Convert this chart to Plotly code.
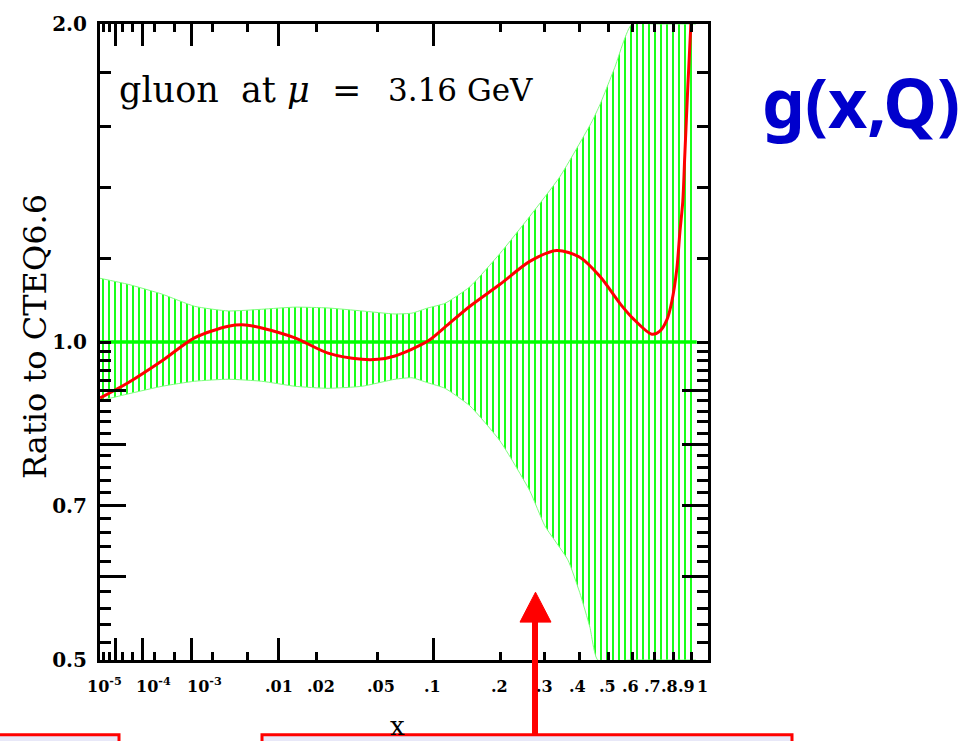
import numpy as np
import plotly.graph_objects as go

# ---------------- data ----------------
# upper edge of the uncertainty band
x_hi = [1e-6, 3.4e-5, 2.9e-4, 1.1e-3, 3.1e-3, 7.0e-3, 0.0137, 0.0243, 0.0406, 0.0632,
        0.078, 0.094, 0.114, 0.1485, 0.20, 0.263, 0.341, 0.441, 0.4695, 0.507, 0.526,
        0.596, 0.70, 0.80, 0.925]
band_hi = [1.149, 1.134, 1.110, 1.081, 1.070, 1.074, 1.079, 1.077, 1.070, 1.063,
           1.065, 1.077, 1.088, 1.128, 1.213, 1.315, 1.434, 1.616, 1.677, 1.771, 1.82,
           2.0, 2.0, 2.0, 2.0]
# lower edge of the uncertainty band
x_lo = [1e-6, 3.4e-5, 2.9e-4, 1.1e-3, 3.1e-3, 7.0e-3, 0.0137, 0.0243, 0.0406, 0.0632,
        0.078, 0.094, 0.114, 0.1485, 0.20, 0.263, 0.300, 0.364, 0.401, 0.4345, 0.462,
        0.60, 0.80, 0.925]
band_lo = [0.880, 0.893, 0.908, 0.918, 0.922, 0.918, 0.908, 0.904, 0.908, 0.922,
           0.925, 0.915, 0.904, 0.870, 0.806, 0.723, 0.670, 0.622, 0.579, 0.537, 0.5,
           0.5, 0.5, 0.5]
# central (red) ratio curve
x_c = [1e-6, 3.4e-5, 2.9e-4, 1.1e-3, 3.1e-3, 4.8e-3, 7.0e-3, 0.0137, 0.0243, 0.0406,
       0.0506, 0.0632, 0.0941, 0.114, 0.1485, 0.200, 0.263, 0.332, 0.401, 0.4695,
       0.55, 0.6005, 0.6875, 0.727, 0.763, 0.789, 0.816, 0.8325, 0.849, 0.86, 0.878,
       0.895, 0.91]
ratio_c = [0.885, 0.915, 0.960, 1.009, 1.035, 1.038, 1.031, 1.009, 0.976, 0.963,
           0.963, 0.970, 1.002, 1.033, 1.081, 1.134, 1.192, 1.221, 1.203, 1.154,
           1.085, 1.053, 1.017, 1.024, 1.05, 1.093, 1.174, 1.27, 1.359, 1.50, 1.752,
           1.995, 2.3]
# reference line at ratio 1
x_ref = [1e-6, 0.93]
ratio_ref = [1.0, 1.0]

# ticks
x_tick_vals = [1e-5, 1e-4, 1e-3, 0.01, 0.02, 0.05, 0.1, 0.2, 0.3, 0.4, 0.5, 0.6, 0.7, 0.8, 0.9, 1.0]
x_tick_text = ["10<sup>-5</sup>", "10<sup>-4</sup>", "10<sup>-3</sup>", ".01", ".02", ".05", ".1",
               ".2", ".3", ".4", ".5", ".6", ".7", ".8", ".9", "1"]
x_minor_vals = [2e-6, 5e-6, 2e-5, 5e-5, 2e-4, 5e-4, 2e-3, 5e-3]
x_long_vals = [1e-5, 1e-4, 1e-3, 0.01, 0.1]
y_tick_vals = [0.5, 0.7, 1.0, 2.0]
y_tick_text = ["0.5", "0.7", "1.0", "2.0"]
y_minor_vals = [round(0.5 + 0.02 * i, 2) for i in range(1, 25)] + [1.2, 1.4, 1.6, 1.8]
y_long_vals = [0.6, 0.7, 0.8, 0.9]

# style: horizontal nudges (px) of the x tick labels, as set in the original
x_label_shift = [-11, 11, 13, 0, 5, 4, -1, -1, 0, -2, -1, -2, -2, -4, -5, -6]

X_MIN, X_MAX = 1e-6, 1.0
Y_MIN, Y_MAX = 0.5, 2.0
POW = 0.25  # the x axis is linear in x**0.25


def tx(v):
    return (np.asarray(v, dtype=float)) ** POW


# ---------------- figure geometry ----------------
W, H = 971, 741
L, R, T, B = 100, 708, 22, 660


def px(xp):
    return (xp - L) / (R - L)


def py(yp):
    return (B - yp) / (B - T)


fig = go.Figure()

GREEN = "#00ff00"
fig.add_trace(go.Scatter(x=tx(x_hi), y=band_hi, mode="lines",
                         line=dict(color="#7dff7d", width=1, shape="spline", smoothing=0.5),
                         showlegend=False, hoverinfo="skip"))
fig.add_trace(go.Scatter(x=tx(x_lo), y=band_lo, mode="lines", fill="tonexty",
                         fillcolor="white",
                         fillpattern=dict(shape="|", size=6, solidity=0.3, fgopacity=1,
                                          fgcolor=GREEN, bgcolor="white"),
                         line=dict(color="#7dff7d", width=1, shape="spline", smoothing=0.5),
                         showlegend=False, hoverinfo="skip"))
fig.add_trace(go.Scatter(x=tx(x_ref), y=ratio_ref, mode="lines",
                         line=dict(color=GREEN, width=3.5), showlegend=False))
fig.add_trace(go.Scatter(x=tx(x_c), y=ratio_c, mode="lines",
                         line=dict(color="#ff0000", width=3, shape="spline", smoothing=0.8),
                         showlegend=False))
# helper traces so the overlay axes (long ticks) exist
fig.add_trace(go.Scatter(x=[None], y=[None], xaxis="x2", yaxis="y", showlegend=False))
fig.add_trace(go.Scatter(x=[None], y=[None], xaxis="x", yaxis="y2", showlegend=False))

xr = [float(tx(X_MIN)), float(tx(X_MAX))]
yr = [np.log10(Y_MIN), np.log10(Y_MAX)]

tickfont_x = dict(family="DejaVu Serif", size=16, color="black", weight="bold")
tickfont_y = dict(family="DejaVu Serif", size=20, color="black", weight="bold")

fig.update_layout(
    width=W, height=H,
    margin=dict(l=L, r=W - R, t=T, b=H - B, pad=0),
    paper_bgcolor="white", plot_bgcolor="white",
    showlegend=False,
    xaxis=dict(range=xr, showgrid=False, zeroline=False, showline=True, linewidth=3,
               linecolor="black", mirror="allticks", ticks="inside", ticklen=8, tickwidth=3,
               tickcolor="black", tickmode="array", tickvals=tx(x_tick_vals),
               showticklabels=False,
               minor=dict(tickmode="array", tickvals=tx(x_minor_vals), ticks="inside",
                          ticklen=8, tickwidth=3, tickcolor="black", showgrid=False)),
    xaxis2=dict(range=xr, overlaying="x", anchor="y", side="bottom", showgrid=False,
                zeroline=False, showline=False, mirror="allticks", ticks="inside",
                ticklen=22, tickwidth=3, tickcolor="black", tickmode="array",
                tickvals=tx(x_long_vals), showticklabels=False),
    yaxis=dict(type="log", range=yr, showgrid=False, zeroline=False, showline=True,
               linewidth=3, linecolor="black", mirror="allticks", ticks="inside",
               ticklen=11, tickwidth=3, tickcolor="black", tickmode="array",
               tickvals=y_tick_vals, ticktext=y_tick_text, tickfont=tickfont_y,
               ticklabelstandoff=6,
               minor=dict(tickmode="array", tickvals=y_minor_vals, ticks="inside",
                          ticklen=9, tickwidth=3, tickcolor="black", showgrid=False)),
    yaxis2=dict(type="log", range=yr, overlaying="y", anchor="x", side="left",
                showgrid=False, zeroline=False, showline=False, mirror="allticks",
                ticks="inside", ticklen=26, tickwidth=3, tickcolor="black",
                tickmode="array", tickvals=y_long_vals, showticklabels=False),
)

ann = []
# x tick labels, placed on the axis scale
for v, txt, sh in zip(x_tick_vals, x_tick_text, x_label_shift):
    ann.append(dict(xref="x", yref="paper", x=float(tx(v)), y=py(697), xanchor="center",
                    yanchor="bottom", xshift=sh, text=txt, showarrow=False,
                    font=tickfont_x, borderpad=0))
ann.append(dict(xref="paper", yref="paper", x=px(117), y=py(88), xanchor="left", yanchor="middle",
                text="gluon&nbsp;&nbsp;at&nbsp;<i>μ</i>&nbsp;&nbsp;=", showarrow=False,
                font=dict(family="DejaVu Serif", size=35, color="black")))
ann.append(dict(xref="paper", yref="paper", x=px(386), y=py(88), xanchor="left", yanchor="middle",
                text="3.16 GeV", showarrow=False,
                font=dict(family="DejaVu Serif", size=31, color="black")))
ann.append(dict(xref="paper", yref="paper", x=px(35), y=py(336), xanchor="center", yanchor="middle",
                text="Ratio to CTEQ6.6", textangle=-90, showarrow=False,
                font=dict(family="DejaVu Serif", size=32, color="black")))
ann.append(dict(xref="paper", yref="paper", x=px(397), y=py(726), xanchor="center", yanchor="middle",
                text="x", showarrow=False,
                font=dict(family="DejaVu Serif", size=26, color="black")))
ann.append(dict(xref="paper", yref="paper", x=px(861), y=py(100), xanchor="center", yanchor="middle",
                text="<b>g(x,Q)</b>", showarrow=False,
                font=dict(family="Noto Sans", size=68, color="#0000cc")))
fig.update_layout(annotations=ann)

shapes = []
shapes.append(dict(type="rect", xref="paper", yref="paper", x0=px(-5), x1=px(119), y0=py(735), y1=py(760),
                   line=dict(color="#ff0000", width=3), fillcolor="#e8e8f8", layer="above"))
shapes.append(dict(type="rect", xref="paper", yref="paper", x0=px(262), x1=px(792), y0=py(735), y1=py(760),
                   line=dict(color="#ff0000", width=3), fillcolor="#e8e8f8", layer="above"))
shapes.append(dict(type="line", xref="paper", yref="paper", x0=px(535), x1=px(535), y0=py(735), y1=py(618),
                   line=dict(color="#ff0000", width=6), layer="above"))
shapes.append(dict(type="path", xref="paper", yref="paper",
                   path="M {} {} L {} {} L {} {} Z".format(px(520), py(622), px(551), py(622), px(535.5), py(592)),
                   line=dict(color="#ff0000", width=1), fillcolor="#ff0000", layer="above"))
fig.update_layout(shapes=shapes)

fig.write_html("out.html")
